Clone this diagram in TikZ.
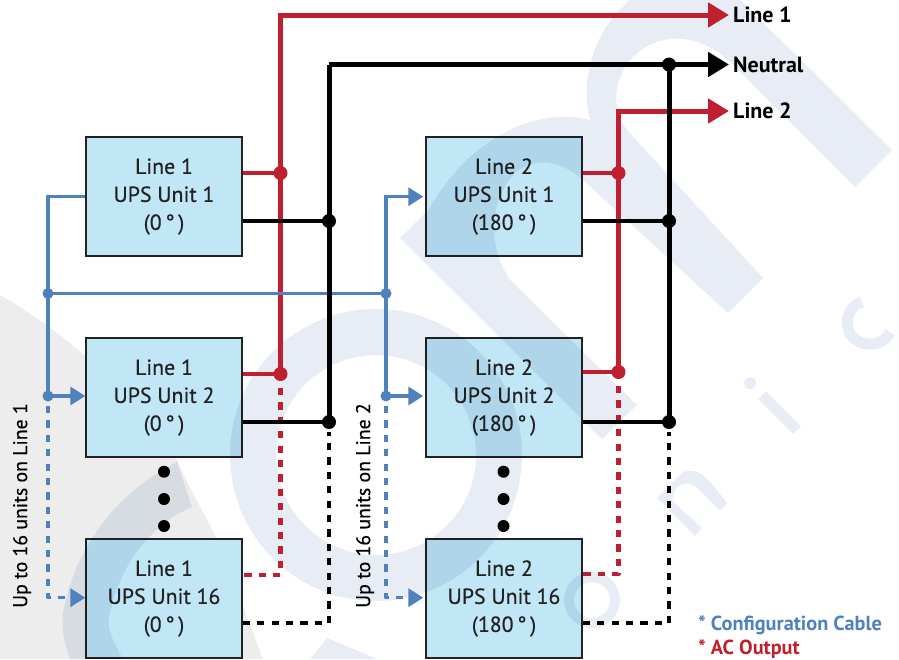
\documentclass[tikz,border=0pt]{standalone}
\usepackage{fontspec}
\setmainfont{PT Sans}
\newfontfamily\boxfont[FakeBold=0.4]{PT Sans}
\usetikzlibrary{arrows.meta}
\definecolor{cred}{HTML}{C01F2F}
\definecolor{cblue}{HTML}{4F81BD}
\definecolor{cbox}{HTML}{C1E6F5}
\definecolor{wm}{HTML}{E8EDF5}
\definecolor{wg}{HTML}{EDEDED}
\definecolor{tdark}{HTML}{222222}
\tikzset{
 unitbox/.style={draw=tdark,line width=1.4pt,fill=cbox,minimum width=156pt,minimum height=119pt,inner sep=0pt,align=center,font=\boxfont\fontsize{21.8}{28}\selectfont,text=tdark},
 redw/.style={draw=cred,line width=5pt},
 redd/.style={draw=cred,line width=4.6pt},
 redstub/.style={draw=cred,line width=4pt},
 blkw/.style={draw=black,line width=5pt},
 blks/.style={draw=black,line width=4.6pt},
 bluew/.style={draw=cblue,line width=3.4pt},
 dashy/.style={dash pattern=on 7.2pt off 7.2pt},
 bigred/.style={-{Triangle[length=21pt,width=24pt,fill=cred]}},
 bigblk/.style={-{Triangle[length=21pt,width=24pt,fill=black]}},
 bluearr/.style={-{Triangle[length=15pt,width=18pt,fill=cblue]}},
 jr/.style={circle,fill=cred,minimum size=14pt,inner sep=0pt},
 jk/.style={circle,fill=black,minimum size=14pt,inner sep=0pt},
 jb/.style={circle,fill=cblue,minimum size=11pt,inner sep=0pt},
 ell/.style={circle,fill=black,minimum size=12pt,inner sep=0pt},
 lab/.style={anchor=base west,inner sep=0pt,font=\fontsize{22}{24}\selectfont\bfseries,text=black},
 uplab/.style={rotate=90,inner sep=0pt,font=\boxfont\fontsize{19.8}{24}\selectfont,text=black},
 legend/.style={anchor=base west,inner sep=0pt,font=\fontsize{20.3}{22}\selectfont\bfseries},
 wmark/.style={fill=wm,draw=none,blend mode=multiply},
 wstroke/.style={draw=wm,line width=11pt,fill=none,blend mode=multiply}
}
\begin{document}
\begin{tikzpicture}[x=1pt,y=-1pt]
\useasboundingbox (0,0) rectangle (899,659);
\fill[white] (0,0) rectangle (899,659);
\begin{scope}
\clip (0,0) rectangle (899,659);
% grey swoosh
\fill[wg] (0,295) .. controls (70,335) and (140,400) .. (177,460)
  .. controls (190,490) and (205,515) .. (217,539)
  .. controls (230,570) and (250,625) .. (263,659) -- (0,659) -- cycle;
\end{scope}
% boxes
\node[unitbox] (a1) at (164,196.5) {Line 1\\UPS Unit 1\\(0\,°\,)};
\node[unitbox] (a2) at (164,397.5) {Line 1\\UPS Unit 2\\(0\,°\,)};
\node[unitbox] (a3) at (164,598.5) {Line 1\\UPS Unit 16\\(0\,°\,)};
\node[unitbox] (b1) at (504,196.5) {Line 2\\UPS Unit 1\\(180\,°\,)};
\node[unitbox] (b2) at (504,397.5) {Line 2\\UPS Unit 2\\(180\,°\,)};
\node[unitbox] (b3) at (504,598.5) {Line 2\\UPS Unit 16\\(180\,°\,)};
\begin{scope}
\clip (0,0) rectangle (899,659);
% watermark, one path so that overlaps stay flat
\path[wmark]
 (400,238) -- (430,208) .. controls (465,145) and (530,105) .. (590,120)
 .. controls (578,70) and (600,20) .. (640,-8) -- (732,-8) -- (892,150) -- (855,187) -- (733,65)
 .. controls (705,35) and (660,28) .. (632,58) .. controls (612,80) and (612,110) .. (627,130)
 -- (763,278) -- (728,313) -- (583,180)
 .. controls (555,155) and (520,155) .. (503,190) .. controls (490,215) and (490,250) .. (510,280)
 -- (637,405) -- (602,439) -- cycle
 (376,309) .. controls (456.6,309) and (522,374.4) .. (522,455)
 .. controls (522,535.6) and (456.6,601) .. (376,601)
 .. controls (295.4,601) and (230,535.6) .. (230,455)
 .. controls (230,374.4) and (295.4,309) .. (376,309) -- cycle
 (376,355) .. controls (320.8,355) and (276,399.8) .. (276,455)
 .. controls (276,510.2) and (320.8,555) .. (376,555)
 .. controls (431.2,555) and (476,510.2) .. (476,455)
 .. controls (476,399.8) and (431.2,355) .. (376,355) -- cycle;
\path[wmark] (177,462) .. controls (120,490) and (75,545) .. (63,613)
 .. controls (61,630) and (65,645) .. (70,659) -- (123,659)
 .. controls (112,640) and (105,625) .. (110,613)
 .. controls (120,565) and (150,525) .. (192,507) -- cycle;
\path[wmark] (327,638) -- (310,659) -- (377,659) -- cycle;
\path[wmark] (657,498) -- (683,472) .. controls (695,468) and (705,475) .. (712,484) -- (727,503) -- (720,510)
 -- (697,488) .. controls (688,480) and (678,484) .. (675,490) .. controls (672,495) and (672,500) .. (673,502)
 -- (702,528) -- (695,536) -- cycle;
\path[wstroke] (862,302) .. controls (850,305) and (845,320) .. (848,328)
 .. controls (851,345) and (880,352) .. (890,332);
\path[wstroke] (762,395) -- (797,430);
\path[wmark] (750,377) .. controls (753.3,377) and (756,379.7) .. (756,383) .. controls (756,386.3) and (753.3,389) .. (750,389)
 .. controls (746.7,389) and (744,386.3) .. (744,383) .. controls (744,379.7) and (746.7,377) .. (750,377) -- cycle;
\path[draw=wm,line width=10pt,fill=none,blend mode=multiply] (592,577) .. controls (604.7,577) and (615,587.3) .. (615,600)
 .. controls (615,612.7) and (604.7,623) .. (592,623) .. controls (579.3,623) and (569,612.7) .. (569,600)
 .. controls (569,587.3) and (579.3,577) .. (592,577) -- cycle;
\end{scope}
% named junctions and free ends
\coordinate (r1top) at (280.5,15);
\coordinate (k1top) at (329,64.5);
\coordinate (r2top) at (618.5,111);
\coordinate (t1) at (729,15);
\coordinate (tn) at (729,64.5);
\coordinate (t2) at (729,111);
\coordinate (ar1) at (280.5,173);
\coordinate (ar2) at (280.5,374);
\coordinate (ar3) at (280.5,575);
\coordinate (ak1) at (329,221);
\coordinate (ak2) at (329,422);
\coordinate (ak3) at (329,623);
\coordinate (br1) at (618.5,173);
\coordinate (br2) at (618.5,372);
\coordinate (br3) at (618.5,574);
\coordinate (bk1) at (669,221);
\coordinate (bk2) at (669,422);
\coordinate (bk3) at (669,623);
\coordinate (nj) at (669,64.5);
\coordinate (lc1) at (48,196.7);
\coordinate (lc2) at (48,293.5);
\coordinate (lc3) at (48,396);
\coordinate (lc4) at (48,597.7);
\coordinate (rc1) at (386,196.7);
\coordinate (rc2) at (386,293.5);
\coordinate (rc3) at (386,396);
\coordinate (rc4) at (386,597.7);
% red
\draw[redw,bigred] (ar2) -- (r1top) -- (t1);
\draw[redw,bigred] (br2) -- (r2top) -- (t2);
\draw[redstub] (a1.east |- ar1) -- (ar1);
\draw[redstub] (a2.east |- ar2) -- (ar2);
\draw[redstub] (b1.east |- br1) -- (br1);
\draw[redstub] (b2.east |- br2) -- (br2);
\draw[redd,dashy,line join=round] (280.5,388) -- (ar3) -- (a3.east |- ar3);
\draw[redd,dashy,line join=round] (618.5,386) -- (br3) -- (b3.east |- br3);
% blue
\draw[bluew] (a1.west |- lc1) -- (lc1) -- (lc3);
\draw[bluew,bluearr] (lc3) -- (a2.west |- lc3);
\draw[bluew] (lc2) -- (rc2);
\draw[bluew,bluearr] (rc3) -- (rc1) -- ([xshift=-2pt]b1.west |- rc1);
\draw[bluew,bluearr] (rc3) -- ([xshift=-2pt]b2.west |- rc3);
\draw[bluew,dashy,line join=round,bluearr] (48,406) -- (lc4) -- (a3.west |- lc4);
\draw[bluew,dashy,line join=round,bluearr] (386,406) -- (rc4) -- ([xshift=-2pt]b3.west |- rc4);
\node[jb] (dl2) at (lc2) {};
\node[jb] (dl3) at (lc3) {};
\node[jb] (dr2) at (rc2) {};
\node[jb] (dr3) at (rc3) {};
% black
\draw[blkw] (ak2) -- (k1top);
\draw[blkw,bigblk] (k1top) -- (tn);
\draw[blkw] (bk2) -- (nj);
\draw[blks] (a1.east |- ak1) -- (ak1);
\draw[blks] (a2.east |- ak2) -- (ak2);
\draw[blks] (b1.east |- bk1) -- (bk1);
\draw[blks] (b2.east |- bk2) -- (bk2);
\draw[blks,dashy,line join=round] (a3.east |- ak3) -- (ak3) -- (329,432);
\draw[blks,dashy,line join=round] (b3.east |- bk3) -- (bk3) -- (669,432);
% junction dots
\node[jr] (j1) at (ar1) {};
\node[jr] (j2) at (ar2) {};
\node[jr] (j3) at (br1) {};
\node[jr] (j4) at (br2) {};
\node[jk] (j5) at (ak1) {};
\node[jk] (j6) at (ak2) {};
\node[jk] (j7) at (bk1) {};
\node[jk] (j8) at (bk2) {};
\node[jk] (j9) at (nj) {};
% ellipses
\node[ell] (ea1) at (164,471.7) {};
\node[ell] (ea2) at (164,499) {};
\node[ell] (ea3) at (164,526) {};
\node[ell] (eb1) at (503.5,471.7) {};
\node[ell] (eb2) at (503.5,499) {};
\node[ell] (eb3) at (503.5,526) {};
% labels
\node[lab] (l1) at (733,22) {Line 1};
\node[lab] (ln) at (733,72) {Neutral};
\node[lab] (l2) at (733,118) {Line 2};
\node[uplab] (u1) at (22,505.5) {Up to 16 units on Line 1};
\node[uplab] (u2) at (365,505.5) {Up to 16 units on Line 2};
\node[legend,text=cblue] (k1) at (698,630) {* Configuration Cable};
\node[legend,text=cred] (k2) at (698,654) {* AC Output};
\end{tikzpicture}
\end{document}
